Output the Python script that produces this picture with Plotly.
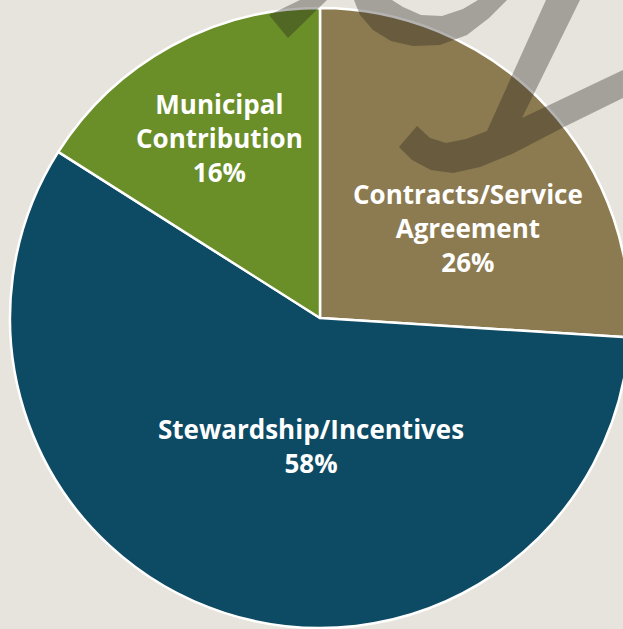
import plotly.graph_objects as go

# Funding sources (percent of total)
categories = ["Contracts/Service Agreement", "Stewardship/Incentives", "Municipal Contribution"]
display_names = ["Contracts/Service<br>Agreement", "Stewardship/Incentives", "Municipal<br>Contribution"]
shares = [26, 58, 16]
slice_colors = ["#8c7a50", "#0d4a64", "#6a8e28"]

# label anchor points, in pixels from the top-left of the canvas
label_px = [(468, 228), (311, 446), (219, 138)]

W, H = 640, 629
BG = "#e7e4dd"


def px_x(x):
    return x / W


def px_y(y):
    return 1 - y / H


fig = go.Figure(
    go.Pie(
        labels=categories,
        values=shares,
        sort=False,
        direction="clockwise",
        rotation=0,
        textinfo="none",
        hoverinfo="label+percent",
        marker=dict(colors=slice_colors, line=dict(color="white", width=2.5)),
        domain=dict(x=[px_x(10), px_x(630)], y=[px_y(628), px_y(8)]),
        showlegend=False,
    )
)

total = sum(shares)
annotations = []
for name, v, (ax, ay) in zip(display_names, shares, label_px):
    annotations.append(
        dict(
            x=px_x(ax), y=px_y(ay), xref="paper", yref="paper",
            text=f"{name}<br>{round(v / total * 100)}%",
            showarrow=False, xanchor="center", yanchor="middle", align="center",
            font=dict(family="Open Sans", size=26, color="white", weight="bold"),
        )
    )


def path(points):
    d = "M " + " L ".join(f"{px_x(x):.4f},{px_y(y):.4f}" for x, y in points) + " Z"
    return d


ink = "rgba(35,33,30,0.34)"
strokes = [
    # looped stroke at the top
    [(354, 0), (360, 15), (373, 30), (391, 41), (413, 46), (440, 45), (467, 35),
     (489, 18), (507, 0), (478, 0), (463, 9), (442, 16), (421, 15), (403, 7), (392, 0)],
    # short wedge near the top-left
    [(300, 0), (269, 15), (288, 38), (327, 0)],
    # long descender with hook and upstroke
    [(546, 0), (580, 0), (522, 118), (623, 70), (623, 98), (564, 127), (512, 154),
     (480, 167), (453, 173), (431, 170), (412, 160), (399, 147), (417, 126),
     (430, 138), (446, 143), (466, 139), (487, 131)],
]
shapes = [
    dict(type="path", xref="paper", yref="paper", path=path(p),
         fillcolor=ink, line=dict(width=0), layer="above")
    for p in strokes
]

fig.update_layout(
    width=W, height=H,
    margin=dict(l=0, r=0, t=0, b=0),
    paper_bgcolor=BG, plot_bgcolor=BG,
    annotations=annotations,
    shapes=shapes,
)

fig.write_html(
    "out.html",
    post_script="document.body.style.margin='0';document.body.style.overflow='hidden';",
)
